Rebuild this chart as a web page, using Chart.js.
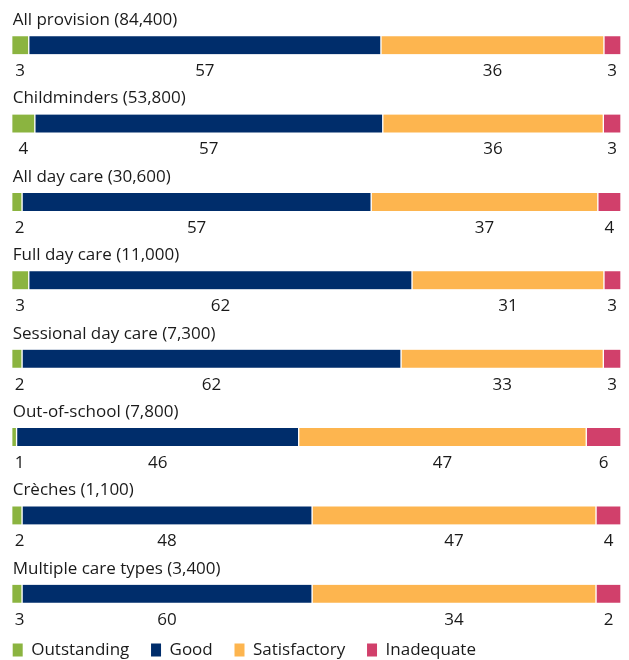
<!DOCTYPE html>
<html>
<head>
<meta charset="utf-8">
<script src="https://cdn.jsdelivr.net/npm/chart.js@4"></script>
<style>
  html, body { margin: 0; padding: 0; background: #fff; }
  #wrap { width: 629px; height: 660px; }
</style>
</head>
<body>
<div id="wrap"><canvas id="chart"></canvas></div>
<script>
const categories = [
  'All provision (84,400)', 'Childminders (53,800)', 'All day care (30,600)',
  'Full day care (11,000)', 'Sessional day care (7,300)', 'Out-of-school (7,800)',
  'Crèches (1,100)', 'Multiple care types (3,400)'
];
const seriesNames = ['Outstanding', 'Good', 'Satisfactory', 'Inadequate'];

// numbers printed under each bar
const outstandingLabels = [3, 4, 2, 3, 2, 1, 2, 3];
const goodLabels = [57, 57, 57, 62, 62, 46, 48, 60];
const satisfactoryLabels = [36, 36, 37, 31, 33, 47, 47, 34];
const inadequateLabels = [3, 3, 4, 3, 3, 6, 4, 2];

// bar lengths as drawn in the picture (% of full width)
const outstanding = [2.8, 3.8, 1.7, 2.8, 1.7, 0.8, 1.7, 1.7];
const good = [57.8, 57.1, 57.3, 62.9, 62.2, 46.3, 47.6, 47.6];
const satisfactory = [36.6, 36.2, 37.2, 31.5, 33.2, 47.2, 46.6, 46.6];
const inadequate = [2.8, 2.9, 3.8, 2.8, 2.9, 5.7, 4.1, 4.1];

const colors = ['#8bb440', '#002d6b', '#fdb54f', '#d1406b'];
const FONT = '"Open Sans", sans-serif';
const TEXT = '#1a1a1a';

// titles above and numbers below each bar
const rowText = {
  id: 'rowText',
  afterDatasetsDraw(chart) {
    const ctx = chart.ctx;
    const area = chart.chartArea;
    ctx.save();
    ctx.font = '17px ' + FONT;
    ctx.fillStyle = TEXT;
    ctx.textBaseline = 'middle';
    ctx.textAlign = 'left';
    chart.getDatasetMeta(0).data.forEach((bar, i) => {
      ctx.fillText(categories[i], area.left + 1, bar.y - 25);
    });
    ctx.textAlign = 'center';
    chart.data.datasets.forEach((ds, d) => {
      chart.getDatasetMeta(d).data.forEach((bar, i) => {
        let x = (bar.x + bar.base) / 2;
        x = Math.max(x, area.left + 8);
        x = Math.min(x, area.right - 9);
        ctx.fillText(ds.printed[i], x, bar.y + 26);
      });
    });
    ctx.restore();
  }
};

new Chart(document.getElementById('chart'), {
  type: 'bar',
  data: {
    labels: categories,
    datasets: [
      { label: seriesNames[0], data: outstanding, printed: outstandingLabels, backgroundColor: colors[0] },
      { label: seriesNames[1], data: good, printed: goodLabels, backgroundColor: colors[1] },
      { label: seriesNames[2], data: satisfactory, printed: satisfactoryLabels, backgroundColor: colors[2] },
      { label: seriesNames[3], data: inadequate, printed: inadequateLabels, backgroundColor: colors[3] }
    ]
  },
  options: {
    indexAxis: 'y',
    responsive: true,
    maintainAspectRatio: false,
    animation: false,
    datasets: {
      bar: {
        barThickness: 18,
        borderColor: '#ffffff',
        borderWidth: { left: 1, right: 1, top: 0, bottom: 0 },
        borderSkipped: false
      }
    },
    layout: { padding: { left: 4.2, right: 8, top: 6, bottom: -8.5 } },
    scales: {
      x: { stacked: true, min: 0, max: 100, display: false },
      y: {
        stacked: true,
        grid: { display: false },
        border: { display: false },
        ticks: { display: false },
        afterFit: (scale) => { scale.width = 7.5; }
      }
    },
    plugins: {
      tooltip: { enabled: false },
      legend: {
        position: 'bottom',
        align: 'start',
        labels: {
          font: { size: 17, family: FONT },
          color: TEXT,
          boxWidth: 10,
          boxHeight: 13,
          padding: 8.5,
          generateLabels: (chart) => chart.data.datasets.map((ds, i) => ({
            text: ds.label + '   ',
            fillStyle: ds.backgroundColor,
            strokeStyle: ds.backgroundColor,
            lineWidth: 0,
            fontColor: TEXT,
            hidden: false,
            datasetIndex: i
          }))
        }
      }
    }
  },
  plugins: [rowText]
});
</script>
</body>
</html>
